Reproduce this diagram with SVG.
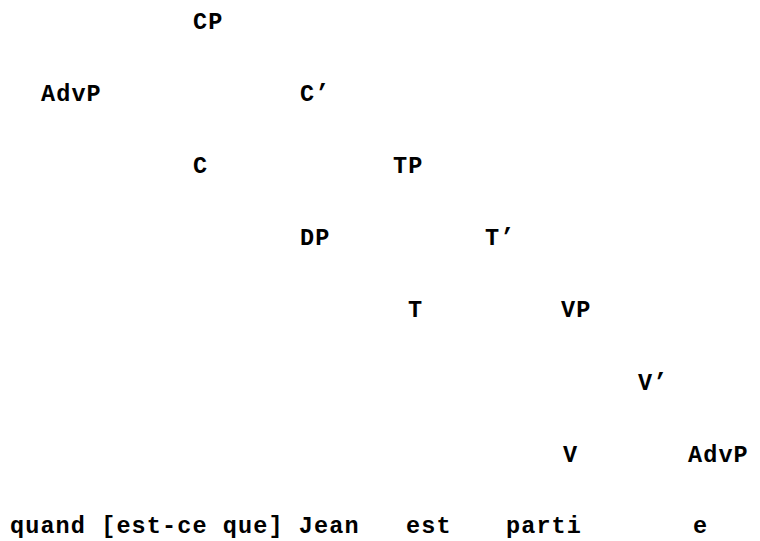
<svg xmlns="http://www.w3.org/2000/svg" width="760" height="541" viewBox="0 0 760 541">
  <style>
    text { font-family: "Liberation Mono", "DejaVu Sans Mono", monospace; font-weight: bold; font-size: 23.5px; letter-spacing: 1.1px; fill: #000; }
  </style>
  <rect width="760" height="541" fill="#fff"/>
  <g id="connectors"></g>
  <g id="n-cp"><text x="193" y="29">CP</text></g>
  <g id="n-advp1"><text x="41" y="101">AdvP</text></g>
  <g id="n-cbar"><text x="300" y="101">C’</text></g>
  <g id="n-c"><text x="193" y="173">C</text></g>
  <g id="n-tp"><text x="393" y="173">TP</text></g>
  <g id="n-dp"><text x="300" y="245">DP</text></g>
  <g id="n-tbar"><text x="485" y="245">T’</text></g>
  <g id="n-t"><text x="408" y="317">T</text></g>
  <g id="n-vp"><text x="561" y="317">VP</text></g>
  <g id="n-vbar"><text x="638" y="390">V’</text></g>
  <g id="n-v"><text x="563" y="462">V</text></g>
  <g id="n-advp2"><text x="688" y="462">AdvP</text></g>
  <g id="w-quand"><text x="10" y="533">quand [est-ce que] Jean</text></g>
  <g id="w-est"><text x="406" y="533">est</text></g>
  <g id="w-parti"><text x="506" y="533">parti</text></g>
  <g id="w-e"><text x="693" y="533">e</text></g>
</svg>
